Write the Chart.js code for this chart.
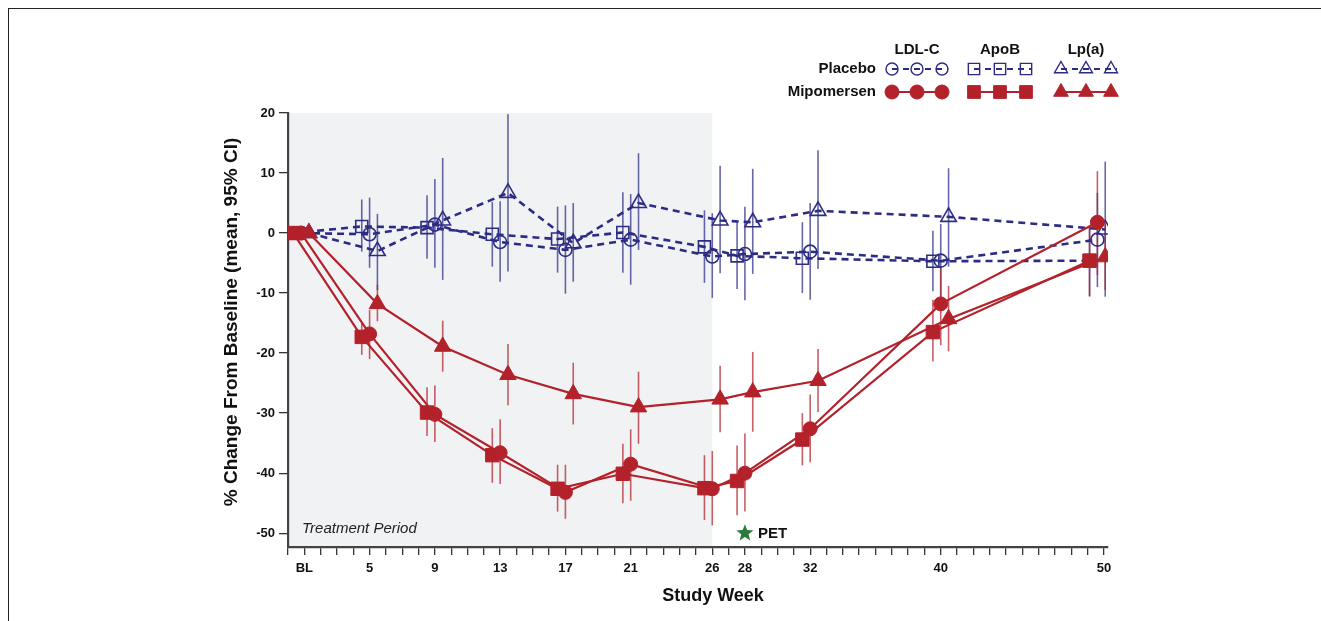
<!DOCTYPE html>
<html>
<head>
<meta charset="utf-8">
<script src="https://cdn.jsdelivr.net/npm/chart.js@4.4.0/dist/chart.umd.min.js"></script>
<style>
  html, body { margin: 0; padding: 0; background: #fff; }
  #wrap { position: relative; width: 1321px; height: 621px; }
  #frame { position: absolute; left: 8px; top: 8px; width: 1400px; height: 700px;
           border-top: 1px solid #222; border-left: 1px solid #222; pointer-events: none; }
</style>
</head>
<body>
<div id="wrap">
  <canvas id="trialChart" width="1321" height="621"></canvas>
  <div id="frame"></div>
</div>
<script>
// study week where each visit is plotted (BL and last visit sit slightly off the tick)
const weekPos = [0.8, 5, 9, 13, 17, 21, 26, 28, 32, 40, 49.6];
const tickWeeks = [1, 5, 9, 13, 17, 21, 26, 28, 32, 40, 50];
const tickLabels = ['BL', '5', '9', '13', '17', '21', '26', '28', '32', '40', '50'];
const yTicks = [-50, -40, -30, -20, -10, 0, 10, 20];

// mipomersen, mean % change and 95% CI
const mipoLDL   = [0, -16.8, -30.2, -36.6, -43.2, -38.5, -42.6, -40.0, -32.6, -11.8, 1.8];
const mipoLDLLo = [null, -21.0, -34.8, -41.8, -47.6, -44.6, -48.7, -46.4, -38.2, -18.7, -7.0];
const mipoLDLHi = [null, -12.8, -25.4, -31.0, -38.6, -32.7, -36.3, -33.4, -26.9, -5.8, 10.3];

const mipoApoB   = [0, -17.3, -29.9, -37.0, -42.6, -40.1, -42.5, -41.3, -34.4, -16.5, -4.6];
const mipoApoBLo = [null, -20.3, -33.8, -41.6, -46.4, -45.0, -47.8, -47.0, -38.7, -21.4, -10.6];
const mipoApoBHi = [null, -15.0, -25.7, -32.5, -38.6, -35.1, -37.0, -35.4, -30.0, -11.1, 1.1];

const mipoLpa   = [0, -11.8, -18.9, -23.6, -26.8, -29.0, -27.7, -26.5, -24.6, -14.3, -4.0];
const mipoLpaLo = [null, -14.7, -23.1, -28.7, -31.9, -35.1, -33.2, -33.1, -29.8, -19.7, -9.5];
const mipoLpaHi = [null, -8.6, -14.6, -18.5, -21.6, -23.1, -22.1, -19.8, -19.3, -8.8, 1.5];

// placebo
const plaLDL   = [0, -0.2, 1.4, -1.5, -2.8, -1.1, -3.9, -3.5, -3.1, -4.6, -1.1];
const plaLDLLo = [null, -5.8, -5.8, -8.1, -10.1, -8.6, -10.8, -11.2, -11.1, -11.0, -9.0];
const plaLDLHi = [null, 5.9, 9.0, 5.3, 4.6, 6.5, 3.3, 4.4, 5.0, 1.5, 6.7];

const plaApoB   = [0, 1.1, 0.9, -0.2, -1.0, 0.1, -2.3, -3.8, -4.2, -4.7, -4.6];
const plaApoBLo = [null, -3.1, -4.3, -5.6, -6.6, -6.6, -8.3, -9.3, -10.0, -9.7, -10.5];
const plaApoBHi = [null, 5.6, 6.3, 5.2, 4.4, 6.8, 3.8, 1.9, 1.8, 0.4, 1.0];

const plaLpa   = [0, -3.0, 2.1, 6.7, -1.7, 5.0, 2.1, 1.8, 3.7, 2.7, 0.6];
const plaLpaLo = [null, -9.5, -7.8, -6.4, -8.1, -2.8, -6.7, -6.8, -6.0, -5.6, -10.6];
const plaLpaHi = [null, 3.2, 12.5, 19.8, 5.0, 13.3, 11.2, 10.7, 13.8, 10.8, 11.9];

const treatmentEnd = 26;
const petWeek = 28;

const RED = '#b3212b';
const BLUE = '#2d2c85';
const RED_CI = 'rgba(179, 33, 43, 0.72)';
const BLUE_CI = 'rgba(45, 44, 133, 0.72)';
const FONT = "'Liberation Sans', Arial, Helvetica, sans-serif";

// analyte -> marker + small sideways shift so bars don't overlap
const analytes = {
  ldl:  { style: 'circle',   shift: 0 },
  apob: { style: 'rect',     shift: -0.48 },
  lpa:  { style: 'triangle', shift: 0.48 },
};
const sizes = {
  mipo: { circle: 7, rect: 9.5, triangle: 9.5 },
  pla:  { circle: 6.5, rect: 8.5, triangle: 9 },
};

function makeSet(label, arm, key, vals, lo, hi) {
  const a = analytes[key];
  const isPla = arm === 'pla';
  return {
    label,
    data: vals.map((v, i) => ({ x: weekPos[i] + a.shift, y: v })),
    ci: { lo, hi },
    ciColor: isPla ? BLUE_CI : RED_CI,
    borderColor: isPla ? BLUE : RED,
    backgroundColor: isPla ? 'rgba(0,0,0,0)' : RED,
    pointBackgroundColor: isPla ? 'rgba(0,0,0,0)' : RED,
    pointBorderColor: isPla ? BLUE : RED,
    pointBorderWidth: isPla ? 1.6 : 1,
    pointStyle: a.style,
    pointRadius: sizes[arm][a.style],
    borderWidth: isPla ? 2.6 : 2.2,
    borderDash: isPla ? [7, 5] : [],
    tension: 0,
    showLine: true,
  };
}

const datasets = [
  makeSet('Mipomersen LDL-C', 'mipo', 'ldl', mipoLDL, mipoLDLLo, mipoLDLHi),
  makeSet('Mipomersen ApoB', 'mipo', 'apob', mipoApoB, mipoApoBLo, mipoApoBHi),
  makeSet('Mipomersen Lp(a)', 'mipo', 'lpa', mipoLpa, mipoLpaLo, mipoLpaHi),
  makeSet('Placebo LDL-C', 'pla', 'ldl', plaLDL, plaLDLLo, plaLDLHi),
  makeSet('Placebo ApoB', 'pla', 'apob', plaApoB, plaApoBLo, plaApoBHi),
  makeSet('Placebo Lp(a)', 'pla', 'lpa', plaLpa, plaLpaLo, plaLpaHi),
];

// grey band behind the treatment period
const shading = {
  id: 'shading',
  beforeDraw(chart) {
    const { ctx, chartArea: a, scales: { x } } = chart;
    ctx.save();
    ctx.fillStyle = '#f1f2f4';
    const x1 = x.getPixelForValue(treatmentEnd);
    ctx.fillRect(a.left, a.top, x1 - a.left, a.bottom - a.top);
    ctx.restore();
  }
};

const errorBars = {
  id: 'errorBars',
  beforeDatasetsDraw(chart) {
    const { ctx, scales: { x, y } } = chart;
    ctx.save();
    ctx.lineWidth = 1.6;
    chart.data.datasets.slice().reverse().forEach(ds => {
      ctx.strokeStyle = ds.ciColor;
      ds.data.forEach((p, j) => {
        const lo = ds.ci.lo[j], hi = ds.ci.hi[j];
        if (lo == null) return;
        const px = x.getPixelForValue(p.x);
        ctx.beginPath();
        ctx.moveTo(px, y.getPixelForValue(lo));
        ctx.lineTo(px, y.getPixelForValue(hi));
        ctx.stroke();
      });
    });
    ctx.restore();
  }
};

function star(ctx, cx, cy, rOut, rIn) {
  ctx.beginPath();
  for (let i = 0; i < 10; i++) {
    const r = i % 2 ? rIn : rOut;
    const ang = -Math.PI / 2 + i * Math.PI / 5;
    ctx.lineTo(cx + r * Math.cos(ang), cy + r * Math.sin(ang));
  }
  ctx.closePath();
  ctx.fill();
}

// titles, annotations and the grid-style legend
const extras = {
  id: 'extras',
  afterDraw(chart) {
    const { ctx, chartArea: a, scales: { x, y } } = chart;
    ctx.save();
    ctx.fillStyle = '#111';

    ctx.font = 'bold 19px ' + FONT;
    ctx.textAlign = 'center';
    ctx.textBaseline = 'middle';
    ctx.save();
    ctx.translate(232, 322);
    ctx.rotate(-Math.PI / 2);
    ctx.fillText('% Change From Baseline (mean, 95% CI)', 0, 0);
    ctx.restore();

    ctx.font = 'bold 18px ' + FONT;
    ctx.fillText('Study Week', 713, 596);

    ctx.font = 'italic 15px ' + FONT;
    ctx.textAlign = 'left';
    ctx.fillStyle = '#222';
    ctx.fillText('Treatment Period', a.left + 14, 529);

    const sx = x.getPixelForValue(petWeek), sy = y.getPixelForValue(-50);
    ctx.fillStyle = '#2a7a3a';
    star(ctx, sx, sy, 9, 3.8);
    ctx.fillStyle = '#111';
    ctx.font = 'bold 15px ' + FONT;
    ctx.fillText('PET', sx + 13, sy + 1);

    // legend
    ctx.font = 'bold 15px ' + FONT;
    ctx.textAlign = 'center';
    const cols = [
      { name: 'LDL-C', key: 'ldl', xs: [892, 917, 942] },
      { name: 'ApoB', key: 'apob', xs: [974, 1000, 1026] },
      { name: 'Lp(a)', key: 'lpa', xs: [1061, 1086, 1111] },
    ];
    cols.forEach(c => ctx.fillText(c.name, c.xs[1], 50));
    ctx.textAlign = 'right';
    ctx.fillText('Placebo', 876, 69);
    ctx.fillText('Mipomersen', 876, 92);

    const plaR = { circle: 6, rect: 8, triangle: 7.5 };
    const mipoR = { circle: 7, rect: 9, triangle: 8.5 };
    cols.forEach(c => {
      const style = analytes[c.key].style;
      // placebo row
      ctx.strokeStyle = BLUE;
      ctx.lineWidth = 2;
      ctx.setLineDash([6, 5]);
      ctx.beginPath();
      ctx.moveTo(c.xs[0], 69);
      ctx.lineTo(c.xs[2] + 6, 69);
      ctx.stroke();
      ctx.setLineDash([]);
      ctx.lineWidth = 1.4;
      ctx.fillStyle = 'rgba(0,0,0,0)';
      c.xs.forEach(px => Chart.helpers.drawPoint(ctx, {
        pointStyle: style, radius: plaR[style], rotation: 0, borderWidth: 1.4
      }, px, 69));
      // mipomersen row
      ctx.strokeStyle = RED;
      ctx.lineWidth = 2;
      ctx.beginPath();
      ctx.moveTo(c.xs[0], 92);
      ctx.lineTo(c.xs[2], 92);
      ctx.stroke();
      ctx.fillStyle = RED;
      ctx.lineWidth = 1;
      c.xs.forEach(px => Chart.helpers.drawPoint(ctx, {
        pointStyle: style, radius: mipoR[style], rotation: 0, borderWidth: 1
      }, px, 92));
    });
    ctx.restore();
  }
};

Chart.defaults.font.family = FONT;
Chart.defaults.color = '#111';

new Chart(document.getElementById('trialChart'), {
  type: 'scatter',
  data: { datasets },
  options: {
    responsive: false,
    animation: false,
    layout: { padding: { left: 218, right: 213, top: 113, bottom: 10 } },
    plugins: { legend: { display: false }, tooltip: { enabled: false } },
    scales: {
      x: {
        type: 'linear',
        min: 0,
        max: 50.25,
        afterBuildTicks: s => { s.ticks = Array.from({ length: 51 }, (_, i) => ({ value: i })); },
        afterFit: s => { s.height = 64; },
        ticks: {
          autoSkip: false,
          maxRotation: 0,
          padding: 6,
          font: { family: "'Liberation Sans Narrow', " + FONT, weight: 'bold', size: 13 },
          color: '#111',
          callback: v => {
            const k = tickWeeks.indexOf(v);
            return k >= 0 ? tickLabels[k] : '';
          },
        },
        grid: { drawOnChartArea: false, drawTicks: true, tickLength: 8, color: '#333', lineWidth: 1.3 },
        border: { display: true, color: '#444', width: 2.2 },
      },
      y: {
        min: -52.3,
        max: 20,
        afterBuildTicks: s => { s.ticks = yTicks.map(v => ({ value: v })); },
        afterFit: s => { s.width = 70; },
        ticks: {
          padding: 4,
          font: { weight: 'bold', size: 13 },
          color: '#111',
        },
        grid: { drawOnChartArea: false, drawTicks: true, tickLength: 9, color: '#333', lineWidth: 1.3 },
        border: { display: true, color: '#444', width: 2.2 },
      },
    },
  },
  plugins: [shading, errorBars, extras],
});
</script>
</body>
</html>
